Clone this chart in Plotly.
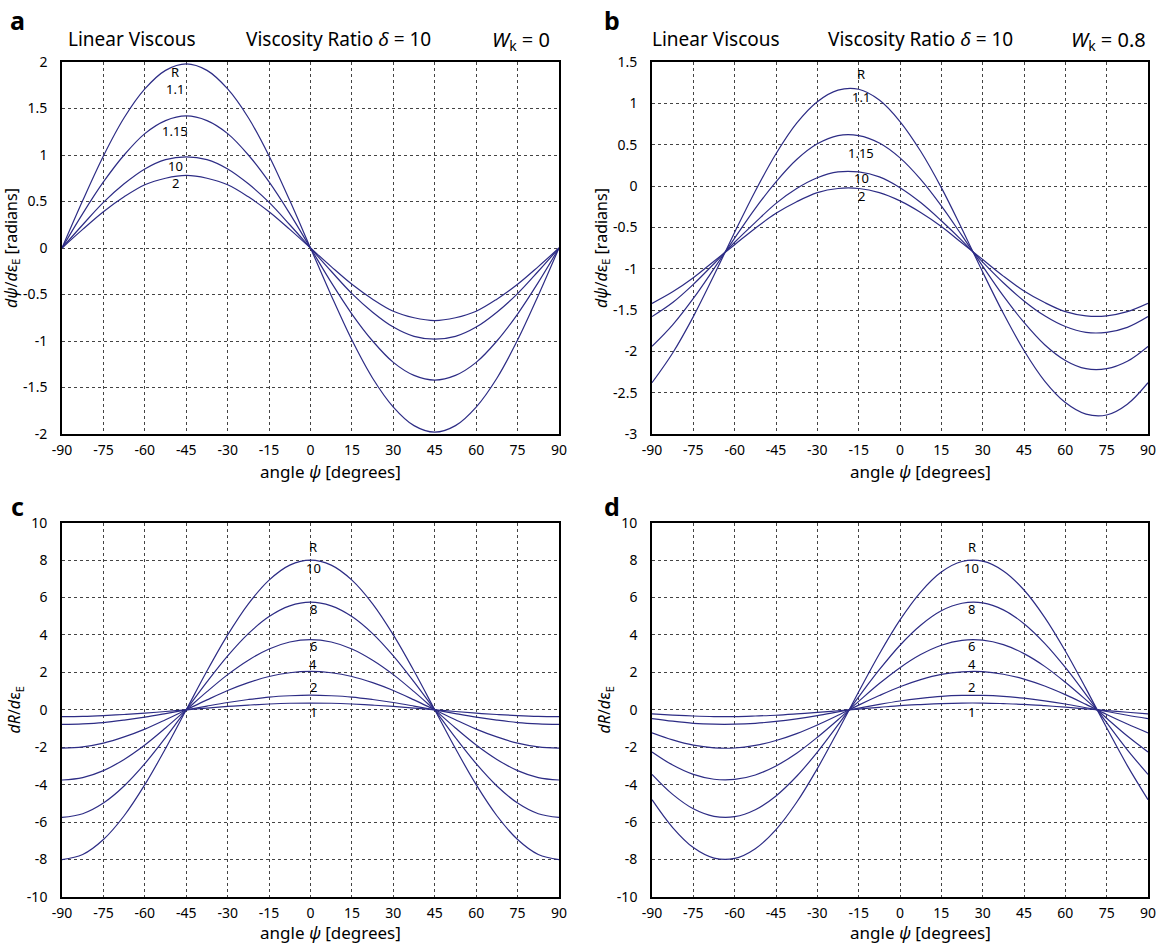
import plotly.graph_objects as go

# ---------------- data ----------------
psi = [-90, -82.5, -75, -67.5, -60, -52.5, -45, -37.5, -30, -22.5, -15, -7.5, 0,
       7.5, 15, 22.5, 30, 37.5, 45, 52.5, 60, 67.5, 75, 82.5, 90]

x_tickvals = [-90, -75, -60, -45, -30, -15, 0, 15, 30, 45, 60, 75, 90]
x_ticktext = ["-90", "-75", "-60", "-45", "-30", "-15", "0", "15", "30", "45", "60", "75", "90"]

# panel a  (dpsi/de, W_k = 0)
a_R11 = [0, 0.51, 0.99, 1.40, 1.71, 1.91, 1.98, 1.91, 1.71, 1.40, 0.99, 0.51, 0,
         -0.51, -0.99, -1.40, -1.71, -1.91, -1.98, -1.91, -1.71, -1.40, -0.99, -0.51, 0]
a_R115 = [0, 0.37, 0.71, 1.00, 1.23, 1.37, 1.42, 1.37, 1.23, 1.00, 0.71, 0.37, 0,
          -0.37, -0.71, -1.00, -1.23, -1.37, -1.42, -1.37, -1.23, -1.00, -0.71, -0.37, 0]
a_R10 = [0, 0.25, 0.49, 0.69, 0.85, 0.95, 0.98, 0.95, 0.85, 0.69, 0.49, 0.25, 0,
         -0.25, -0.49, -0.69, -0.85, -0.95, -0.98, -0.95, -0.85, -0.69, -0.49, -0.25, 0]
a_R2 = [0, 0.20, 0.39, 0.55, 0.68, 0.75, 0.78, 0.75, 0.68, 0.55, 0.39, 0.20, 0,
        -0.20, -0.39, -0.55, -0.68, -0.75, -0.78, -0.75, -0.68, -0.55, -0.39, -0.20, 0]
a_ytickvals = [-2, -1.5, -1, -0.5, 0, 0.5, 1, 1.5, 2]
a_yticktext = ["-2", "-1.5", "-1", "-0.5", "0", "0.5", "1", "1.5", "2"]
a_labels = ["R", "1.1", "1.15", "10", "2"]
a_label_x = [-49, -49, -49, -49, -49]
a_label_y = [1.89, 1.71, 1.26, 0.88, 0.70]

# panel b  (dpsi/de, W_k = 0.8)
b_R11 = [-2.38, -2.02, -1.58, -1.08, -0.56, -0.06, 0.39, 0.76, 1.02, 1.16, 1.17, 1.04, 0.78,
         0.42, -0.02, -0.52, -1.04, -1.54, -1.99, -2.36, -2.62, -2.76, -2.77, -2.64, -2.38]
b_R115 = [-1.94, -1.68, -1.36, -1.00, -0.63, -0.27, 0.05, 0.32, 0.51, 0.61, 0.61, 0.52, 0.34,
          0.08, -0.24, -0.60, -0.97, -1.33, -1.65, -1.92, -2.11, -2.21, -2.21, -2.12, -1.94]
b_R10 = [-1.58, -1.41, -1.19, -0.94, -0.68, -0.44, -0.21, -0.03, 0.10, 0.17, 0.17, 0.11, -0.02,
         -0.20, -0.42, -0.66, -0.92, -1.17, -1.39, -1.57, -1.70, -1.77, -1.77, -1.71, -1.58]
b_R2 = [-1.42, -1.28, -1.11, -0.91, -0.71, -0.51, -0.33, -0.19, -0.08, -0.03, -0.03, -0.08, -0.18,
        -0.32, -0.49, -0.69, -0.89, -1.09, -1.27, -1.41, -1.52, -1.57, -1.57, -1.52, -1.42]
b_ytickvals = [-3, -2.5, -2, -1.5, -1, -0.5, 0, 0.5, 1, 1.5]
b_yticktext = ["-3", "-2.5", "-2", "-1.5", "-1", "-0.5", "0", "0.5", "1", "1.5"]
b_labels = ["R", "1.1", "1.15", "10", "2"]
b_label_x = [-14, -14, -14, -14, -14]
b_label_y = [1.36, 1.08, 0.40, 0.10, -0.12]

# panel c  (dR/de, W_k = 0)
c_R10 = [-8.0, -7.73, -6.93, -5.66, -4.0, -2.07, 0, 2.07, 4.0, 5.66, 6.93, 7.73, 8.0,
         7.73, 6.93, 5.66, 4.0, 2.07, 0, -2.07, -4.0, -5.66, -6.93, -7.73, -8.0]
c_R8 = [-5.75, -5.55, -4.98, -4.07, -2.88, -1.49, 0, 1.49, 2.88, 4.07, 4.98, 5.55, 5.75,
        5.55, 4.98, 4.07, 2.88, 1.49, 0, -1.49, -2.88, -4.07, -4.98, -5.55, -5.75]
c_R6 = [-3.75, -3.62, -3.25, -2.65, -1.88, -0.97, 0, 0.97, 1.88, 2.65, 3.25, 3.62, 3.75,
        3.62, 3.25, 2.65, 1.88, 0.97, 0, -0.97, -1.88, -2.65, -3.25, -3.62, -3.75]
c_R4 = [-2.05, -1.98, -1.78, -1.45, -1.03, -0.53, 0, 0.53, 1.03, 1.45, 1.78, 1.98, 2.05,
        1.98, 1.78, 1.45, 1.03, 0.53, 0, -0.53, -1.03, -1.45, -1.78, -1.98, -2.05]
c_R2 = [-0.78, -0.75, -0.68, -0.55, -0.39, -0.20, 0, 0.20, 0.39, 0.55, 0.68, 0.75, 0.78,
        0.75, 0.68, 0.55, 0.39, 0.20, 0, -0.20, -0.39, -0.55, -0.68, -0.75, -0.78]
c_R1 = [-0.36, -0.35, -0.31, -0.25, -0.18, -0.09, 0, 0.09, 0.18, 0.25, 0.31, 0.35, 0.36,
        0.35, 0.31, 0.25, 0.18, 0.09, 0, -0.09, -0.18, -0.25, -0.31, -0.35, -0.36]

# panel d  (dR/de, W_k = 0.8)
d_R10 = [-4.80, -6.29, -7.36, -7.92, -7.94, -7.42, -6.40, -4.94, -3.14, -1.13, 0.96, 2.98, 4.80,
         6.29, 7.36, 7.92, 7.94, 7.42, 6.40, 4.94, 3.14, 1.13, -0.96, -2.98, -4.80]
d_R8 = [-3.45, -4.52, -5.29, -5.69, -5.71, -5.34, -4.60, -3.55, -2.26, -0.81, 0.69, 2.14, 3.45,
        4.52, 5.29, 5.69, 5.71, 5.34, 4.60, 3.55, 2.26, 0.81, -0.69, -2.14, -3.45]
d_R6 = [-2.25, -2.95, -3.45, -3.71, -3.72, -3.48, -3.00, -2.32, -1.47, -0.53, 0.45, 1.40, 2.25,
        2.95, 3.45, 3.71, 3.72, 3.48, 3.00, 2.32, 1.47, 0.53, -0.45, -1.40, -2.25]
d_R4 = [-1.23, -1.61, -1.89, -2.03, -2.04, -1.90, -1.64, -1.27, -0.81, -0.29, 0.25, 0.76, 1.23,
        1.61, 1.89, 2.03, 2.04, 1.90, 1.64, 1.27, 0.81, 0.29, -0.25, -0.76, -1.23]
d_R2 = [-0.47, -0.61, -0.72, -0.77, -0.77, -0.72, -0.62, -0.48, -0.31, -0.11, 0.09, 0.29, 0.47,
        0.61, 0.72, 0.77, 0.77, 0.72, 0.62, 0.48, 0.31, 0.11, -0.09, -0.29, -0.47]
d_R1 = [-0.22, -0.28, -0.33, -0.36, -0.36, -0.33, -0.29, -0.22, -0.14, -0.05, 0.04, 0.13, 0.22,
        0.28, 0.33, 0.36, 0.36, 0.33, 0.29, 0.22, 0.14, 0.05, -0.04, -0.13, -0.22]

cd_ytickvals = [-10, -8, -6, -4, -2, 0, 2, 4, 6, 8, 10]
cd_yticktext = ["-10", "-8", "-6", "-4", "-2", "0", "2", "4", "6", "8", "10"]
c_labels = ["R", "10", "8", "6", "4", "2", "1"]
c_label_x = [1, 1, 1, 1, 1, 1, 1]
c_label_y = [8.7, 7.55, 5.4, 3.4, 2.45, 1.22, -0.12]
d_labels = ["R", "10", "8", "6", "4", "2", "1"]
d_label_x = [26, 26, 26, 26, 26, 26, 26]
d_label_y = [8.7, 7.55, 5.4, 3.4, 2.45, 1.22, -0.12]

# ---------------- styling ----------------
W, H = 1166, 945
LINE = "#2d2c85"
FONT = "Noto Sans"

def px_x(p):
    return p / W

def px_y(p):
    return 1 - p / H

left_dom = [px_x(62), px_x(559)]
right_dom = [px_x(652), px_x(1148)]
top_dom = [px_y(434), px_y(62)]
bot_dom = [px_y(897), px_y(522.6)]

fig = go.Figure()

def add_curves(series, xa, ya):
    for ys in series:
        fig.add_trace(go.Scatter(x=psi, y=ys, mode="lines", xaxis=xa, yaxis=ya,
                                 line=dict(color=LINE, width=1.2, shape="spline", smoothing=1.0),
                                 showlegend=False, hoverinfo="skip"))

add_curves([a_R11, a_R115, a_R10, a_R2], "x", "y")
add_curves([b_R11, b_R115, b_R10, b_R2], "x2", "y2")
add_curves([c_R10, c_R8, c_R6, c_R4, c_R2, c_R1], "x3", "y3")
add_curves([d_R10, d_R8, d_R6, d_R4, d_R2, d_R1], "x4", "y4")

GRID = dict(showgrid=True, gridcolor="#444444", griddash="dot", gridwidth=1, zeroline=False,
            showline=True, mirror=True, linecolor="black", linewidth=1.6, ticks="",
            automargin=False, tickfont=dict(family=FONT, size=14, color="black"))

def xaxis(dom, anchor):
    return dict(domain=dom, anchor=anchor, range=[-90, 90], tickvals=x_tickvals, ticktext=x_ticktext,
                ticklabelstandoff=2, **GRID)

def yaxis(dom, anchor, rng, tv, tt, title):
    return dict(domain=dom, anchor=anchor, range=rng, tickvals=tv, ticktext=tt, ticklabelstandoff=10,
                title=dict(text=title, font=dict(family=FONT, size=16, color="black"), standoff=2),
                **GRID)

ytitle_ab = "<i>dψ</i>/<i>d</i>ε<sub>E</sub> [radians]"
ytitle_cd = "<i>dR</i>/<i>d</i>ε<sub>E</sub>"

fig.update_layout(
    width=W, height=H, margin=dict(l=0, r=0, t=0, b=0, autoexpand=False),
    paper_bgcolor="white", plot_bgcolor="white",
    font=dict(family=FONT, color="black"),
    xaxis=xaxis(left_dom, "y"), yaxis=yaxis(top_dom, "x", [-2, 2], a_ytickvals, a_yticktext, ytitle_ab),
    xaxis2=xaxis(right_dom, "y2"), yaxis2=yaxis(top_dom, "x2", [-3, 1.5], b_ytickvals, b_yticktext, ytitle_ab),
    xaxis3=xaxis(left_dom, "y3"), yaxis3=yaxis(bot_dom, "x3", [-10, 10], cd_ytickvals, cd_yticktext, ytitle_cd),
    xaxis4=xaxis(right_dom, "y4"), yaxis4=yaxis(bot_dom, "x4", [-10, 10], cd_ytickvals, cd_yticktext, ytitle_cd),
)

ann = []

def text_at(t, x, y, size, xanchor="center", bold=False):
    ann.append(dict(text=("<b>" + t + "</b>") if bold else t, x=px_x(x), y=px_y(y),
                    xref="paper", yref="paper", xanchor=xanchor, yanchor="middle", showarrow=False,
                    font=dict(family=FONT, size=size, color="black")))

def curve_labels(labels, xs, ys, xr, yr):
    for t, xv, yv in zip(labels, xs, ys):
        ann.append(dict(text=t, x=xv, y=yv, xref=xr, yref=yr, xanchor="center", yanchor="middle",
                        showarrow=False, font=dict(family=FONT, size=13, color="black")))

curve_labels(a_labels, a_label_x, a_label_y, "x", "y")
curve_labels(b_labels, b_label_x, b_label_y, "x2", "y2")
curve_labels(c_labels, c_label_x, c_label_y, "x3", "y3")
curve_labels(d_labels, d_label_x, d_label_y, "x4", "y4")

# headers
text_at("a", 17, 20, 25, bold=True)
text_at("Linear Viscous", 132, 39, 19)
text_at("Viscosity Ratio <i>δ</i> = 10", 338, 39, 19)
text_at("<i>W</i><sub>k</sub> = 0", 552, 40, 20, xanchor="right")
text_at("b", 612, 20, 25, bold=True)
text_at("Linear Viscous", 716, 39, 19)
text_at("Viscosity Ratio <i>δ</i> = 10", 921, 39, 19)
text_at("<i>W</i><sub>k</sub> = 0.8", 1148, 40, 20, xanchor="right")
text_at("c", 17, 506, 25, bold=True)
text_at("d", 612, 506, 25, bold=True)

# x axis titles
text_at("angle <i>ψ</i> [degrees]", 330, 472, 17)
text_at("angle <i>ψ</i> [degrees]", 920, 472, 17)
text_at("angle <i>ψ</i> [degrees]", 330, 932, 17)
text_at("angle <i>ψ</i> [degrees]", 920, 932, 17)

fig.update_layout(annotations=ann)
fig.write_html("out.html")
